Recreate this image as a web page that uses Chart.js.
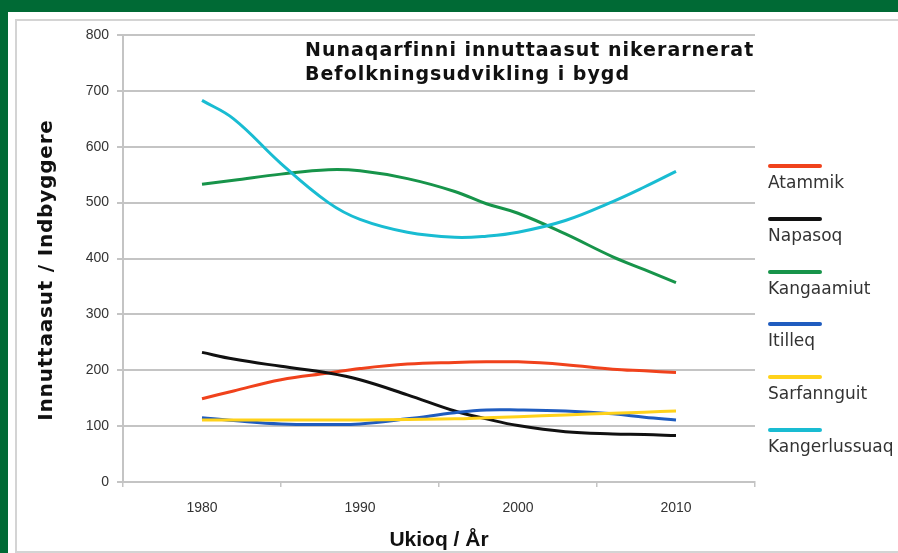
<!DOCTYPE html>
<html>
<head>
<meta charset="utf-8">
<script src="https://cdn.jsdelivr.net/npm/chart.js@4.4.1/dist/chart.umd.min.js"></script>
<style>
  html, body { margin: 0; padding: 0; }
  body { width: 898px; height: 553px; background: #006a35; position: relative; overflow: hidden; }
  #card { position: absolute; left: 8px; top: 12px; right: 0; bottom: 0; background: #fff; }
  #frame { position: absolute; left: 15px; top: 19px; width: 900px; height: 530px; border: 2px solid #d4d4d4; }
  #wrap { position: absolute; left: 0; top: 0; width: 898px; height: 553px; }
  #legend { position: absolute; left: 768px; top: 0; font-family: "DejaVu Sans", Verdana, sans-serif; font-size: 17px; color: #333; }
  #legend .item { position: absolute; left: 0; white-space: nowrap; }
  #legend .swatch { width: 54px; height: 4px; border-radius: 2px; }
  #legend .lbl { margin-top: 4px; }
</style>
</head>
<body>
<div id="card"></div>
<div id="frame"></div>
<div id="wrap"><canvas id="chart" width="898" height="553"></canvas></div>
<div id="legend"></div>
<script>
// years sampled along the curves
var years = [1980, 1982, 1985, 1988, 1990, 1993, 1996, 1998, 2000, 2003, 2006, 2008, 2010];
var yearLabels = [1980, 1990, 2000, 2010];

var atammik       = [149, 163, 183, 195, 203, 211, 214, 215, 215, 210, 202, 199, 196];
var napasoq       = [232, 220, 207, 195, 183, 156, 127, 113, 101, 90, 86, 85, 83];
var kangaamiut    = [533, 540, 551, 559, 557, 543, 520, 498, 481, 444, 403, 380, 357];
var itilleq       = [115, 110, 104, 103, 104, 113, 124, 129, 129, 127, 122, 116, 111];
var sarfannguit   = [111, 111, 111, 111, 111, 112, 113, 115, 117, 120, 123, 125, 127];
var kangerlussuaq = [683, 650, 570, 500, 470, 447, 438, 440, 447, 468, 502, 528, 556];

var names  = ["Atammik", "Napasoq", "Kangaamiut", "Itilleq", "Sarfannguit", "Kangerlussuaq"];
var series = [atammik, napasoq, kangaamiut, itilleq, sarfannguit, kangerlussuaq];
var colors = ["#f0421c", "#111111", "#17944a", "#1f5cbf", "#ffd21a", "#19bcd2"];

var titleLines = ["Nunaqarfinni innuttaasut nikerarnerat", "Befolkningsudvikling i bygd"];
var yTitle = "Innuttaasut / Indbyggere";

function toPoints(vals) {
    return vals.map(function (v, i) { return { x: years[i], y: v }; });
}

// draw datasets in reverse so Atammik ends up on top like the original
var datasets = [];
for (var i = series.length - 1; i >= 0; i--) {
    datasets.push({
        label: names[i],
        data: toPoints(series[i]),
        borderColor: colors[i],
        backgroundColor: colors[i],
        borderWidth: 3,
        pointRadius: 0,
        tension: 0.4,
        fill: false
    });
}

// legend: line swatch above the name
var legendEl = document.getElementById('legend');
names.forEach(function (n, i) {
    var d = document.createElement('div');
    d.className = 'item';
    d.style.top = (164 + i * 52.8) + 'px';
    d.innerHTML = '<div class="swatch" style="background:' + colors[i] + '"></div><div class="lbl">' + n + '</div>';
    legendEl.appendChild(d);
});

var chartTitle = {
    id: 'chartTitle',
    afterDraw: function (chart) {
        var c = chart.ctx;
        c.save();
        c.fillStyle = '#111';
        c.font = 'bold 19px "DejaVu Sans", Verdana, sans-serif';
        c.letterSpacing = '1px';
        c.textBaseline = 'alphabetic';
        c.fillText(titleLines[0], 305, 56);
        c.fillText(titleLines[1], 305, 80);

        // vertical axis title
        c.font = 'bold 20px "DejaVu Sans", Verdana, sans-serif';
        c.letterSpacing = '0.8px';
        c.textAlign = 'center';
        c.textBaseline = 'middle';
        c.translate(47, 270);
        c.rotate(-Math.PI / 2);
        c.fillText(yTitle, 0, 0);
        c.restore();
    }
};

var gridColor = '#c4c4c4';
var tickFont = { family: '"Liberation Sans", Arial, sans-serif', size: 14 };
var ctx = document.getElementById('chart').getContext('2d');
var chart = new Chart(ctx, {
    type: 'line',
    data: { datasets: datasets },
    options: {
        responsive: false,
        animation: false,
        layout: { padding: { left: 30, right: 143, top: 35, bottom: 0 } },
        plugins: {
            legend: { display: false },
            tooltip: { enabled: false }
        },
        scales: {
            x: {
                type: 'linear',
                min: 1975,
                max: 2015,
                afterFit: function (s) { s.height = 71; },
                ticks: {
                    stepSize: 5,
                    autoSkip: false,
                    maxRotation: 0,
                    padding: 13,
                    color: '#333',
                    font: tickFont,
                    callback: function (v) { return yearLabels.indexOf(v) >= 0 ? String(v) : ''; }
                },
                grid: {
                    drawOnChartArea: false,
                    tickLength: 5,
                    lineWidth: 1.5,
                    color: function (c) { return (c.tick && c.tick.value % 10 === 5) ? gridColor : 'rgba(0,0,0,0)'; }
                },
                border: { color: gridColor, width: 2 },
                title: {
                    display: true,
                    text: 'Ukioq / År',
                    color: '#111',
                    font: { family: '"Liberation Sans", Arial, sans-serif', size: 21, weight: 'bold' },
                    padding: { top: 0, bottom: 0 }
                }
            },
            y: {
                min: 0,
                max: 800,
                afterFit: function (s) { s.width = 93; },
                ticks: {
                    stepSize: 100,
                    padding: 8,
                    color: '#333',
                    font: tickFont
                },
                grid: { color: gridColor, lineWidth: 2, tickLength: 6 },
                border: { color: gridColor, width: 2 }
            }
        }
    },
    plugins: [chartTitle]
});
</script>
</body>
</html>
